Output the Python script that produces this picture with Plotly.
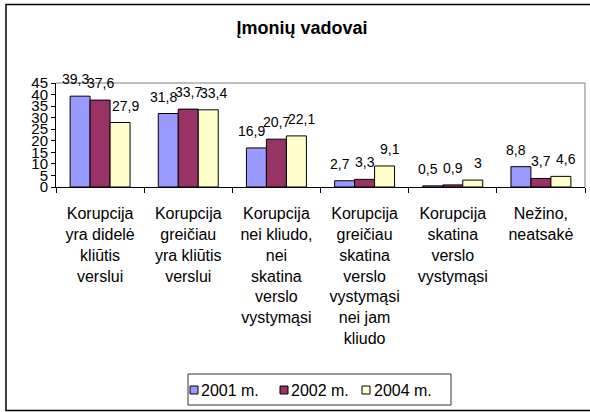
import plotly.graph_objects as go

# ---------------------------------------------------------------------------
# Data
# ---------------------------------------------------------------------------
categories = [
    "Korupcija<br>yra didelė<br>kliūtis<br>verslui",
    "Korupcija<br>greičiau<br>yra kliūtis<br>verslui",
    "Korupcija<br>nei kliudo,<br>nei<br>skatina<br>verslo<br>vystymąsi",
    "Korupcija<br>greičiau<br>skatina<br>verslo<br>vystymąsi<br>nei jam<br>kliudo",
    "Korupcija<br>skatina<br>verslo<br>vystymąsi",
    "Nežino,<br>neatsakė",
]
series_names = ["2001 m.", "2002 m.", "2004 m."]
values_2001 = [39.3, 31.8, 16.9, 2.7, 0.5, 8.8]
values_2002 = [37.6, 33.7, 20.7, 3.3, 0.9, 3.7]
values_2004 = [27.9, 33.4, 22.1, 9.1, 3, 4.6]
y_ticks = list(range(0, 50, 5))

COLORS = ["#9999FF", "#993366", "#FFFFCC"]
FONT = "Liberation Sans, Arial, sans-serif"

# plot area in pixels (Excel-style layout)
W, H = 590, 412
L, R, T, B = 56, 5, 83, 225
PW, PH = W - L - R, H - T - B
BAR_PX = PW / len(categories) * 0.68 / 3


def px_x(x):
    return (x - L) / PW


def px_y(y):
    return (H - B - y) / PH


# ---------------------------------------------------------------------------
# Figure
# ---------------------------------------------------------------------------
fig = go.Figure()
all_values = [values_2001, values_2002, values_2004]

for i, (name, vals, color) in enumerate(zip(series_names, all_values, COLORS)):
    fig.add_trace(go.Bar(
        x=categories, y=vals, name=name,
        marker=dict(color=color, line=dict(color="black", width=1)),
        showlegend=False,
    ))
    # value labels above each bar, spread a little wider than the bars
    for cat, v in zip(categories, vals):
        fig.add_annotation(
            x=cat, y=v, text=f"{v:g}".replace(".", ","),
            showarrow=False, xshift=(i - 1) * (BAR_PX + 5), yshift=17,
            yanchor="middle", font=dict(size=14, family=FONT, color="black"),
        )

# hand-built legend (small squares, tight text like the original)
legend_items = [(190, 199), (280, 289), (362, 372)]
shapes = [
    dict(type="rect", xref="paper", yref="paper",
         x0=px_x(188), x1=px_x(451), y0=px_y(405), y1=px_y(374),
         line=dict(color="#333333", width=1), fillcolor="white"),
]
for (sx, tx), name, color in zip(legend_items, series_names, COLORS):
    shapes.append(dict(type="rect", xref="paper", yref="paper",
                       x0=px_x(sx), x1=px_x(sx + 8), y0=px_y(394), y1=px_y(386),
                       line=dict(color="black", width=1), fillcolor=color))
    fig.add_annotation(xref="paper", yref="paper", x=px_x(tx), y=px_y(390),
                       xanchor="left", yanchor="middle", showarrow=False,
                       text=name, font=dict(size=16, family=FONT, color="black"))

shapes += [
    # plot area top/right border
    dict(type="line", xref="paper", yref="paper", x0=0, x1=1, y0=1, y1=1,
         line=dict(color="#808080", width=1)),
    dict(type="line", xref="paper", yref="paper", x0=1, x1=1, y0=0, y1=1,
         line=dict(color="#808080", width=1)),
    # outer chart border
    dict(type="rect", xref="paper", yref="paper",
         x0=px_x(6), x1=px_x(600), y0=px_y(410.5), y1=px_y(4.5),
         line=dict(color="black", width=1.5)),
]

fig.update_layout(
    width=W, height=H,
    margin=dict(l=L, r=R, t=T, b=B, autoexpand=False),
    paper_bgcolor="white", plot_bgcolor="white",
    bargap=0.32, bargroupgap=0,
    showlegend=False,
    font=dict(family=FONT, color="black", size=14),
    title=dict(
        text="<b>Įmonių vadovai</b>",
        x=302 / W, xref="container", xanchor="center",
        y=1 - 28 / H, yref="container", yanchor="middle",
        font=dict(size=18, family=FONT, color="black"),
    ),
    shapes=shapes,
)

fig.update_xaxes(
    type="category", showline=True, linecolor="black", linewidth=1,
    ticks="outside", tickson="boundaries", ticklen=5, tickcolor="black",
    tickfont=dict(size=16, family=FONT), ticklabelstandoff=12,
    showgrid=False, automargin=False,
)
fig.update_yaxes(
    range=[0, 45], tickvals=y_ticks, showline=True, linecolor="black",
    linewidth=1, ticks="outside", ticklen=4, tickcolor="black",
    tickfont=dict(size=15, family=FONT), showgrid=False, zeroline=False,
    automargin=False,
)

# page has a default 8px body margin; drop it so the chart sits at (0, 0)
fig.write_html(
    "out.html",
    config={"displayModeBar": False},
    post_script="document.body.style.margin = '0';",
)
